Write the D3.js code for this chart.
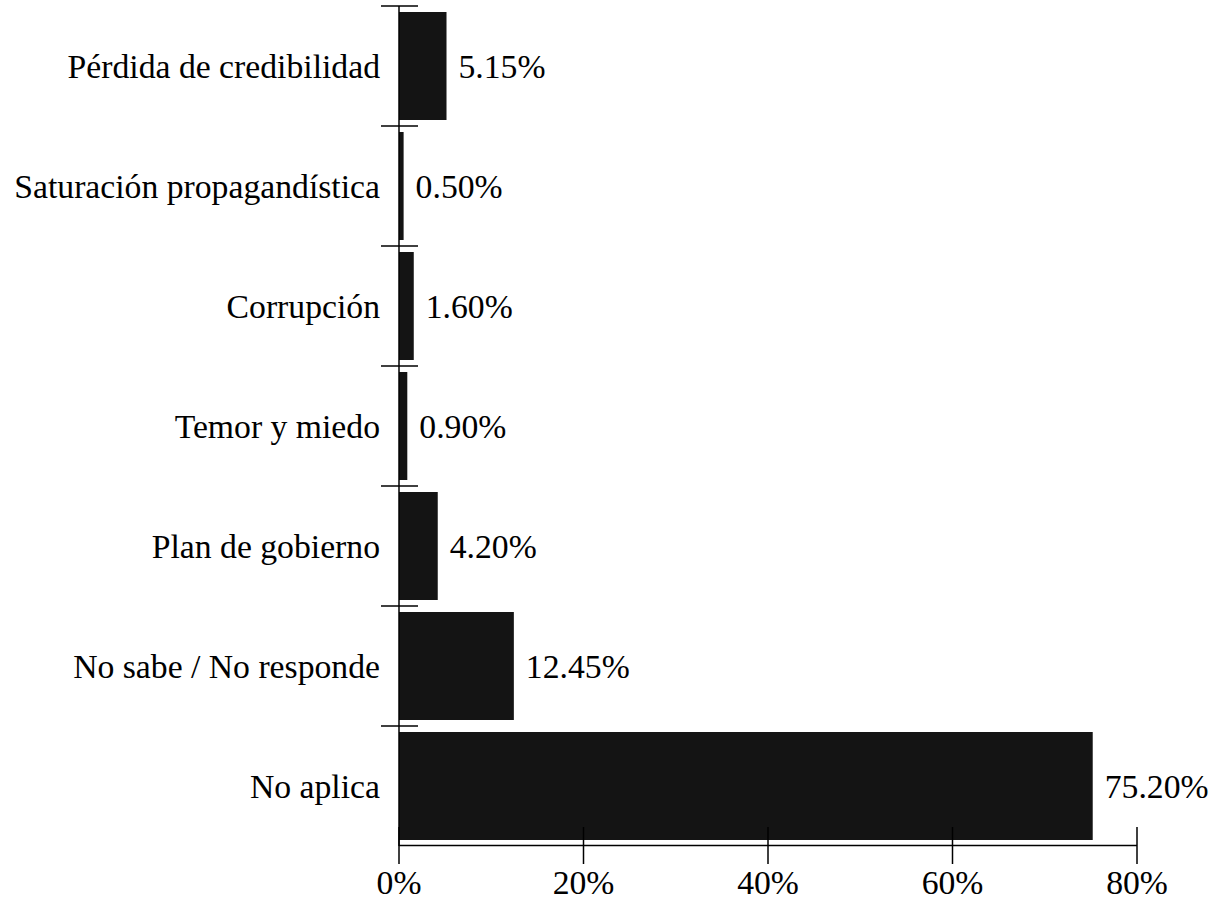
<!DOCTYPE html>
<html><head><meta charset="utf-8">
<script src="https://cdn.jsdelivr.net/npm/d3@7/dist/d3.min.js"></script>
<style>body{margin:0;background:#fff}svg{display:block}text{font-family:"Liberation Serif","Times New Roman",serif;fill:#000}</style>
</head><body>
<svg id="c" width="1213" height="901"></svg>
<script>
const categories = ["Pérdida de credibilidad","Saturación propagandística","Corrupción","Temor y miedo","Plan de gobierno","No sabe / No responde","No aplica"];
const values = [0.0515,0.0050,0.0160,0.0090,0.0420,0.1245,0.7520];
const valueLabels = ["5.15%","0.50%","1.60%","0.90%","4.20%","12.45%","75.20%"];
const xTicks = [0,0.2,0.4,0.6,0.8];
const xTickLabels = ["0%","20%","40%","60%","80%"];

const svg = d3.select("#c");
const x0 = 399, x1 = 1137, yTop = 6, yBot = 846;
const x = d3.scaleLinear().domain([0,0.8]).range([x0,x1]);
const y = d3.scaleBand().domain(categories).range([yTop,yBot]).paddingInner(0.1).paddingOuter(0.05);
const fs = 33.7;

svg.selectAll("rect.bar").data(categories).join("rect")
  .attr("class","bar")
  .attr("x",x(0)).attr("y",d=>y(d))
  .attr("width",(d,i)=>x(values[i])-x(0))
  .attr("height",y.bandwidth())
  .attr("fill","#141414");

svg.append("line").attr("x1",x0).attr("x2",x0).attr("y1",yTop).attr("y2",yBot)
  .attr("stroke","#000").attr("stroke-width",1.5);
const step = y.step();
svg.selectAll("line.yt").data(categories).join("line")
  .attr("class","yt")
  .attr("x1",x0-18).attr("x2",x0+19)
  .attr("y1",(d,i)=>yTop+i*step).attr("y2",(d,i)=>yTop+i*step)
  .attr("stroke","#000").attr("stroke-width",1.5);
svg.selectAll("text.cat").data(categories).join("text")
  .attr("class","cat")
  .attr("x",x0-19).attr("y",d=>y(d)+y.bandwidth()/2)
  .attr("dy","0.35em").attr("text-anchor","end")
  .attr("font-size",fs).text(d=>d);
svg.selectAll("text.val").data(categories).join("text")
  .attr("class","val")
  .attr("x",(d,i)=>x(values[i])+12).attr("y",d=>y(d)+y.bandwidth()/2)
  .attr("dy","0.35em").attr("text-anchor","start")
  .attr("font-size",fs).text((d,i)=>valueLabels[i]);

svg.append("line").attr("x1",x0).attr("x2",x1).attr("y1",845.5).attr("y2",845.5)
  .attr("stroke","#000").attr("stroke-width",1.5);
svg.selectAll("line.xt").data(xTicks).join("line")
  .attr("class","xt")
  .attr("x1",d=>x(d)).attr("x2",d=>x(d))
  .attr("y1",827).attr("y2",864)
  .attr("stroke","#000").attr("stroke-width",1.5);
svg.selectAll("text.xl").data(xTicks).join("text")
  .attr("class","xl")
  .attr("x",d=>x(d)).attr("y",894)
  .attr("text-anchor","middle")
  .attr("font-size",fs).text((d,i)=>xTickLabels[i]);
</script>
</body></html>
